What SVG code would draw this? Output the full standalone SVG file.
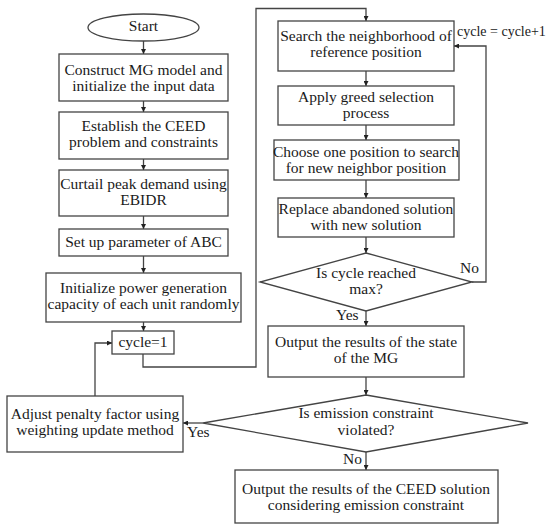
<svg xmlns="http://www.w3.org/2000/svg" width="550" height="529" viewBox="0 0 550 529" font-family="'Liberation Serif', 'Times New Roman', serif" font-size="15.5">
<defs>
<marker id="ah" viewBox="0 0 10 10" refX="10" refY="5" markerWidth="5" markerHeight="5" markerUnits="userSpaceOnUse" orient="auto">
<path d="M0,0 L10,5 L0,10 z" fill="#222"/>
</marker>
<style>
.n{fill:#fff;stroke:#444;stroke-width:1.3}
.c{fill:none;stroke:#444;stroke-width:1.3}
.a{marker-end:url(#ah)}
text{fill:#1a1a1a;text-anchor:middle}
.l{text-anchor:start}
</style>
</defs>
<rect width="550" height="529" fill="#fff"/>
<g id="connectors">
<path class="c a" d="M143.5,41 V54"/>
<path class="c a" d="M143.5,101 V112"/>
<path class="c a" d="M143.5,159 V170"/>
<path class="c a" d="M143.5,216 V229"/>
<path class="c a" d="M143.5,256 V273"/>
<path class="c a" d="M143.5,322 V331"/>
<path class="c a" d="M143,354 V367 H256 V8.5 H366 V21"/>
<path class="c a" d="M366,71 V86"/>
<path class="c a" d="M366,125 V140"/>
<path class="c a" d="M366,180 V198"/>
<path class="c a" d="M366,237 V253"/>
<path class="c a" d="M472,282 H486 V46 H454"/>
<path class="c a" d="M366,311 V326"/>
<path class="c a" d="M366,377 V395"/>
<path class="c a" d="M203,423 H183"/>
<path class="c a" d="M95,396 V343 H112"/>
<path class="c a" d="M366,452 V470"/>
</g>
<g id="start"><ellipse class="n" cx="143.5" cy="27.5" rx="55.5" ry="13.5"/><text x="143.5" y="31">Start</text></g>
<g id="construct"><rect class="n" x="59" y="54" width="169" height="47"/><text x="143.5" y="75">Construct MG model and</text><text x="143.5" y="91">initialize the input data</text></g>
<g id="establish"><rect class="n" x="59" y="112" width="169" height="47"/><text x="143.5" y="131">Establish the CEED</text><text x="143.5" y="147">problem and constraints</text></g>
<g id="curtail"><rect class="n" x="59" y="170" width="169" height="46"/><text x="143.5" y="189">Curtail peak demand using</text><text x="143.5" y="205">EBIDR</text></g>
<g id="setup"><rect class="n" x="59" y="229" width="169" height="27"/><text x="143.5" y="247">Set up parameter of ABC</text></g>
<g id="initialize"><rect class="n" x="46" y="273" width="195" height="49"/><text x="143.5" y="293">Initialize power generation</text><text x="143.5" y="309">capacity of each unit randomly</text></g>
<g id="cycle1"><rect class="n" x="112" y="331" width="62" height="23"/><text x="143" y="347">cycle=1</text></g>
<g id="search"><rect class="n" x="278" y="21" width="176" height="50"/><text x="366" y="41">Search the neighborhood of</text><text x="366" y="57">reference position</text></g>
<g id="apply"><rect class="n" x="278" y="86" width="176" height="39"/><text x="366" y="102">Apply greed selection</text><text x="366" y="118">process</text></g>
<g id="choose"><rect class="n" x="274" y="140" width="185" height="40"/><text x="366" y="157">Choose one position to search</text><text x="366" y="173">for new neighbor position</text></g>
<g id="replace"><rect class="n" x="278" y="198" width="176" height="39"/><text x="366" y="214">Replace abandoned solution</text><text x="366" y="230">with new solution</text></g>
<g id="cyclemax"><path class="n" d="M366,253 L472,282 L366,311 L260,282 z"/><text x="366" y="278">Is cycle reached</text><text x="366" y="294">max?</text></g>
<g id="outputstate"><rect class="n" x="268" y="326" width="196" height="51"/><text x="366" y="347">Output the results of the state</text><text x="366" y="363">of the MG</text></g>
<g id="emission"><path class="n" d="M366,395 L528,423 L366,452 L203,423 z"/><text x="366" y="418">Is emission constraint</text><text x="366" y="435">violated?</text></g>
<g id="adjust"><rect class="n" x="7" y="396" width="176" height="56"/><text x="95" y="419">Adjust penalty factor using</text><text x="95" y="435">weighting update method</text></g>
<g id="final"><rect class="n" x="235" y="470" width="263" height="53"/><text x="366" y="494">Output the results of the CEED solution</text><text x="366" y="510">considering emission constraint</text></g>
<g id="labels">
<text class="l" x="457" y="36" font-size="14">cycle = cycle+1</text>
<text class="l" x="460" y="273">No</text>
<text class="l" x="336" y="320">Yes</text>
<text class="l" x="187" y="437">Yes</text>
<text class="l" x="343" y="464">No</text>
</g>
</svg>
